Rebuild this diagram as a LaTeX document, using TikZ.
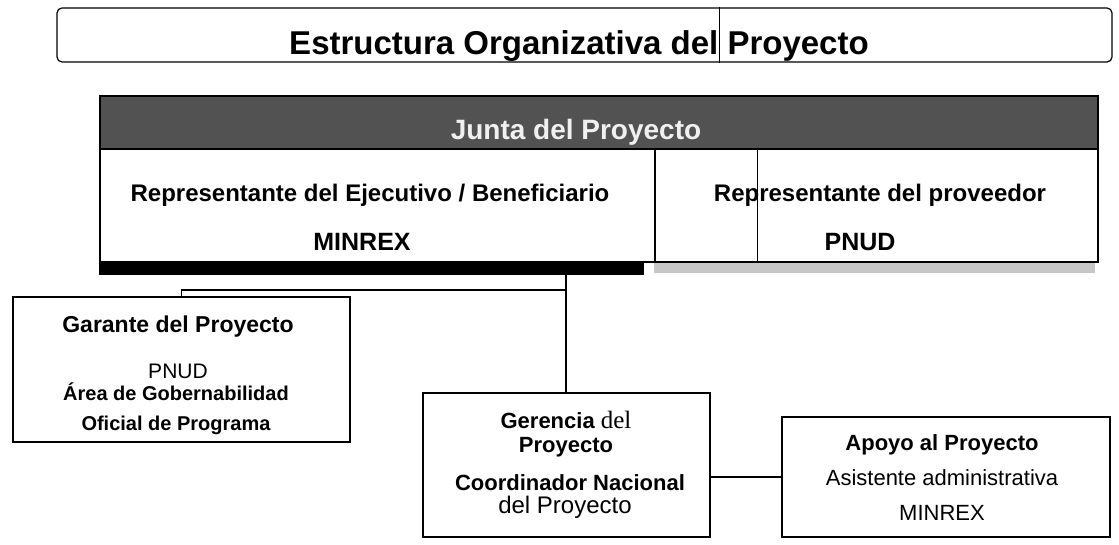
\documentclass[tikz,border=0pt]{standalone}
\usepackage{fontspec}
\setmainfont{Liberation Sans}
\newfontfamily\serifa{Liberation Serif}
\usetikzlibrary{positioning,calc}
\newcommand{\tam}[1]{\fontsize{#1}{#1}\selectfont}

\begin{document}
\begin{tikzpicture}[x=1pt,y=-1pt,
	caja/.style={draw,line width=1.2pt,inner sep=0pt},
	txt/.style={anchor=base,inner sep=0pt},
	con/.style={line width=1.3pt}]
	\useasboundingbox (0,0) rectangle (1119,545);
	% titulo
	\node[caja,rounded corners=5pt,minimum width=1055,minimum height=54] (titulo) at (584.5,35) {};
	\node[txt,font=\bfseries\tam{33}] (ttitulo) at (579,55) {Estructura Organizativa del Proyecto};
	\draw[line width=0.8pt] (titulo.north -| 719,0) -- (titulo.south -| 719,0);
	% junta
	\node[caja,fill=black!68,minimum width=998,minimum height=53] (junta) at (599,122.5) {};
	\node[txt,font=\bfseries\tam{28},text=black!6] (tjunta) at (576,140) {Junta del Proyecto};
	\node[caja,fill=white,minimum width=555,minimum height=113] (ejec) at (377.5,205.5) {};
	\node[caja,fill=white,minimum width=443,minimum height=113] (prov) at (876.5,205.5) {};
	\draw[line width=0.8pt] (prov.north -| 757,0) -- (prov.south -| 757,0);
	\node[txt,font=\bfseries\tam{24}] (tejec) at (370,202) {Representante del Ejecutivo / Beneficiario};
	\node[txt,font=\bfseries\tam{25}] (tminrex) at (362,251) {MINREX};
	\node[txt,font=\bfseries\tam{24}] (tprov) at (880,202) {Representante del proveedor};
	\node[txt,font=\bfseries\tam{25}] (tpnud) at (860,251) {PNUD};
	\fill[black] (ejec.south west) rectangle ($(ejec.south east)+(-12,12)$) coordinate (sombra);
	\fill[black!22] (prov.south west) rectangle ($(prov.south east)+(-4,10)$);
	% garante
	\node[caja,minimum width=337,minimum height=145] (garante) at (181.5,369.5) {};
	\node[txt,font=\bfseries\tam{23}] (tgar) at (178,332) {Garante del Proyecto};
	\node[txt,font=\tam{21}] (tgar2) at (178,378) {PNUD};
	\node[txt,font=\bfseries\tam{20}] (tgar3) at (176,400) {Área de Gobernabilidad};
	\node[txt,font=\bfseries\tam{20}] (tgar4) at (176,430) {Oficial de Programa};
	% gerencia
	\node[caja,minimum width=287,minimum height=144] (gerencia) at (566.5,465) {};
	\node[txt,font=\bfseries\tam{22}] (tger) at (566,428) {Gerencia {\serifa\mdseries\tam{25}del}};
	\node[txt,font=\bfseries\tam{22}] (tger2) at (566,452) {Proyecto};
	\node[txt,font=\bfseries\tam{22}] (tger3) at (570,490) {Coordinador Nacional};
	\node[txt,font=\tam{24}] (tger4) at (565,513) {del Proyecto};
	% apoyo
	\node[caja,minimum width=328,minimum height=120] (apoyo) at (946,477) {};
	\node[txt,font=\bfseries\tam{22}] (tapo) at (942,450) {Apoyo al Proyecto};
	\node[txt,font=\tam{22}] (tapo2) at (942,485) {Asistente administrativa};
	\node[txt,font=\tam{22}] (tapo3) at (942,520) {MINREX};
	% conexiones
	\coordinate (nudo) at (566,290);
	\draw[con] (sombra -| nudo) -- (nudo |- gerencia.north);
	\draw[con] (nudo) -- (nudo -| garante.north) -- (garante.north);
	\draw[con] (apoyo.west) -- (apoyo.west -| gerencia.east);
\end{tikzpicture}
\end{document}
